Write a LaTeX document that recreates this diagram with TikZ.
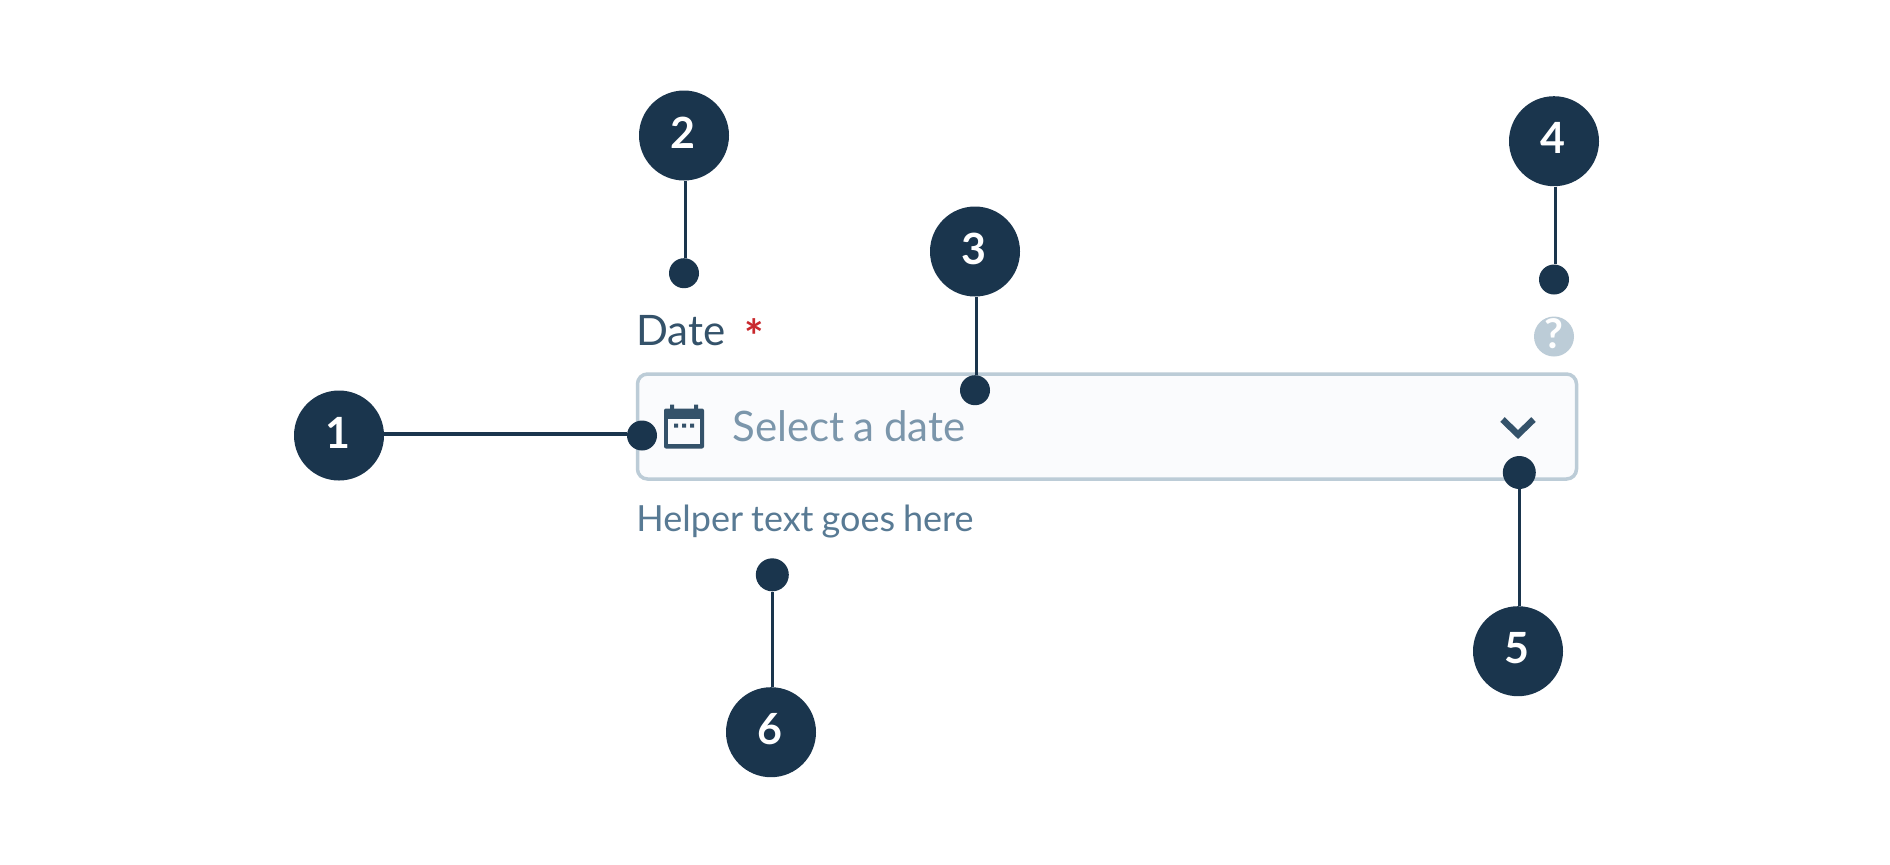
\documentclass[tikz,border=0pt]{standalone}
\usepackage{fontspec}
\setmainfont{Lato}
\newfontfamily\holderfont[WordSpace=0.63]{Lato}
\newfontfamily\helperfont[WordSpace=0.87]{Lato}
\definecolor{navy}{HTML}{1A354D}
\definecolor{slate}{HTML}{34526A}
\definecolor{holder}{HTML}{7B96AB}
\definecolor{helper}{HTML}{587A94}
\definecolor{edge}{HTML}{BCCCD7}
\definecolor{panel}{HTML}{FAFBFD}
\definecolor{star}{HTML}{C9282D}
\tikzset{
  big/.style={circle,fill=navy,inner sep=0pt,minimum size=45pt},
  pin/.style={circle,fill=navy,inner sep=0pt,minimum size=15pt},
  pinb/.style={circle,fill=navy,inner sep=0pt,minimum size=16.5pt},
  digit/.style={anchor=base,inner sep=0pt,text=white,font=\fontsize{21.5}{22}\selectfont\bfseries},
  leader/.style={draw=navy,line width=1.7pt},
  txt/.style={anchor=base west,inner sep=0pt},
}
\newcommand{\callout}[4]{%
  \node[big] (c#1) at (#2,#3) {};
  \node[digit] (n#1) at (#2-1.5,#3+12.5) {#4};
}
\begin{document}
\begin{tikzpicture}[x=0.5pt,y=-0.5pt]
\useasboundingbox (0,-0.5) rectangle (1890,863.5);
\fill[white] (0,-0.5) rectangle (1890,863.5);
% field
\node[draw=edge,fill=panel,line width=1.75pt,rounded corners=5pt,inner sep=0pt,
      minimum width=469.5pt,minimum height=52.5pt] (field) at (1107,426) {};
% texts
\node[txt,text=slate,font=\fontsize{21}{21}\selectfont] (date) at (636,345) {Date};
\node[anchor=center,inner sep=0pt,text=star,font=\fontsize{23}{23}\selectfont\bfseries] (req) at (754.3,336) {*};
\node[txt,text=holder,font=\fontsize{21}{21}\holderfont] (holder) at (732,440.7) {Select a date};
\node[txt,text=helper,font=\fontsize{18}{18}\helperfont] (help) at (636,530.7) {Helper text goes here};
% help icon
\node[circle,fill=edge,inner sep=0pt,minimum size=20pt] (q) at (1554,336) {};
\node[anchor=base,inner sep=0pt,text=white,font=\fontsize{20.5}{21}\selectfont\bfseries] (qm) at (1554,348) {?};
% calendar icon
\fill[slate,rounded corners=1pt] (664,408) rectangle (704,448);
\fill[slate] (670,404) rectangle (674,410) (694,404) rectangle (698,410);
\fill[panel] (668,418) rectangle (700,443.5);
\fill[slate] (674,423) rectangle (678,427) (682,423) rectangle (686,427) (690,423) rectangle (694,427);
% chevron
\draw[slate,line width=3.2pt] (1502.5,419) -- (1518,434) -- (1533.5,419);
% callouts
\callout{1}{339}{435}{1}
\callout{2}{684}{135}{2}
\callout{3}{975}{251}{3}
\callout{4}{1554}{140.7}{4}
\callout{5}{1518}{650.7}{5}
\callout{6}{771}{731.7}{6}
\node[pin] (d1) at (642,435) {};
\node[pin] (d2) at (684,272.7) {};
\node[pin] (d3) at (975,389.7) {};
\node[pin] (d4) at (1554,279) {};
\node[pinb] (d5) at (1519.3,472) {};
\node[pinb] (d6) at (772.3,574.3) {};
% leaders
\draw[leader] ([yshift=0.75pt]c1.east) -- ([yshift=0.75pt]d1.west);
\draw[leader] ([xshift=0.85pt]c2.south) -- ([xshift=0.85pt]d2.north);
\draw[leader] ([xshift=0.85pt]c3.south) -- ([xshift=0.85pt]d3.north);
\draw[leader] ([xshift=0.75pt]c4.south) -- ([xshift=0.75pt]d4.north);
\draw[leader] (d5.south) -- (d5.south |- c5.north);
\draw[leader] (d6.south) -- (d6.south |- c6.north);
\end{tikzpicture}
\end{document}
